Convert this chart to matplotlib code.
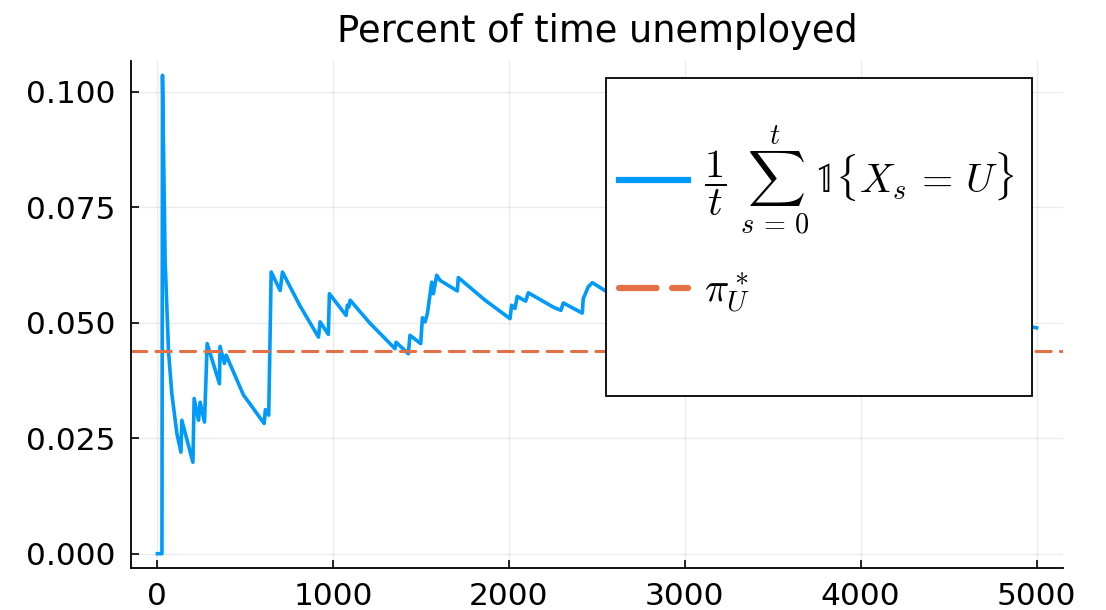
import numpy as np
import matplotlib.pyplot as plt
from matplotlib.patches import Rectangle

# running share of time unemployed
t_vals = [1, 27, 30, 45, 64, 83, 112, 135, 140, 203, 210, 235, 244, 269, 284,
          354, 357, 382, 392, 490, 608, 615, 634, 648, 699, 712, 810, 917, 926,
          973, 979, 1074, 1081, 1089, 1097, 1210, 1352, 1358, 1428, 1437, 1498,
          1508, 1523, 1536, 1561, 1570, 1589, 1608, 1706, 1712, 1864, 2006,
          2015, 2034, 2047, 2095, 2110, 2252, 2295, 2309, 2417, 2422, 2451,
          2474, 2549, 2640, 2650, 3050, 3060, 3500, 3510, 3900, 3910, 4400,
          4410, 4990, 5000]
u_vals = [0.0, 0.0, 0.1036, 0.0635, 0.0440, 0.0347, 0.0260, 0.0220, 0.0289,
          0.0198, 0.0336, 0.0289, 0.0328, 0.0285, 0.0455,
          0.0368, 0.0449, 0.0412, 0.0430, 0.0344, 0.0282, 0.0312, 0.0300,
          0.0610, 0.0570, 0.0610, 0.0538, 0.0469, 0.0502,
          0.0475, 0.0563, 0.0516, 0.0538, 0.0534, 0.0549, 0.0499, 0.0444,
          0.0458, 0.0433, 0.0473, 0.0455,
          0.0511, 0.0502, 0.0520, 0.0588, 0.0563, 0.0603, 0.0592, 0.0569,
          0.0598, 0.0549, 0.0509,
          0.0538, 0.0531, 0.0557, 0.0547, 0.0565, 0.0534, 0.0527, 0.0543,
          0.0521, 0.0552, 0.0578,
          0.0587, 0.0569, 0.0549, 0.0575, 0.0500, 0.0528, 0.0462, 0.0488,
          0.0460, 0.0505, 0.0449,
          0.0515, 0.0490, 0.0489]
pi_star = 0.0439

x_ticks = [0, 1000, 2000, 3000, 4000, 5000]
y_ticks = [0.0, 0.025, 0.05, 0.075, 0.1]

blue = '#009AFA'
orange = '#E36F47'

plt.rcParams['font.family'] = ['DejaVu Sans']
plt.rcParams['mathtext.fontset'] = 'cm'

W, H = 1106, 610
fig = plt.figure(figsize=(W / 100, H / 100), dpi=100)
ax = fig.add_axes([131 / W, 1 - 568 / H, (1063 - 131) / W, (568 - 61) / H])

ax.plot(t_vals, u_vals, color=blue, lw=2.6,
        label=r'$\dfrac{1}{t}\ \sum_{s\,=\,0}^{t}\,\mathbb{1}\{X_s\, =\, U\}$')
ax.axhline(pi_star, color=orange, lw=2.2, linestyle=(0, (5, 3)),
           dash_capstyle='round', label=r'$\pi_U^*$')

ax.set_xlim(-149, 5150)
ax.set_ylim(-0.0031, 0.1067)
ax.set_xticks(x_ticks)
ax.set_yticks(y_ticks)
ax.set_yticklabels(['%.3f' % v for v in y_ticks])
ax.tick_params(direction='in', length=6, width=1.2, labelsize=22.5, pad=10)
ax.tick_params(axis='y', pad=11)
ax.grid(True, color='black', alpha=0.08, lw=1)
for s in ['top', 'right']:
    ax.spines[s].set_visible(False)
for s in ['left', 'bottom']:
    ax.spines[s].set_linewidth(1.3)

ax.set_title('Percent of time unemployed', fontsize=26.5, pad=14)

# legend frame drawn by hand so the box matches the reference
box = Rectangle((606 / W, 1 - 396 / H), (1032 - 606) / W, (396 - 78) / H,
                transform=fig.transFigure, facecolor='white',
                edgecolor='black', lw=1.3, zorder=4, clip_on=False)
ax.add_patch(box)

leg = ax.legend(loc='center left', bbox_to_anchor=(599 / W, 1 - 220 / H),
                bbox_transform=fig.transFigure, fontsize=29, frameon=False,
                handlelength=1.7, handletextpad=0.4, borderpad=0,
                labelspacing=0.8)
leg.set_zorder(5)
hl = leg.get_lines()
hl[0].set_linewidth(4.5)
hl[1].set_linewidth(4.5)
hl[1].set_linestyle((0, (6, 2.5)))
hl[1].set_dash_capstyle('round')

fig.savefig('out.png', dpi=100)
